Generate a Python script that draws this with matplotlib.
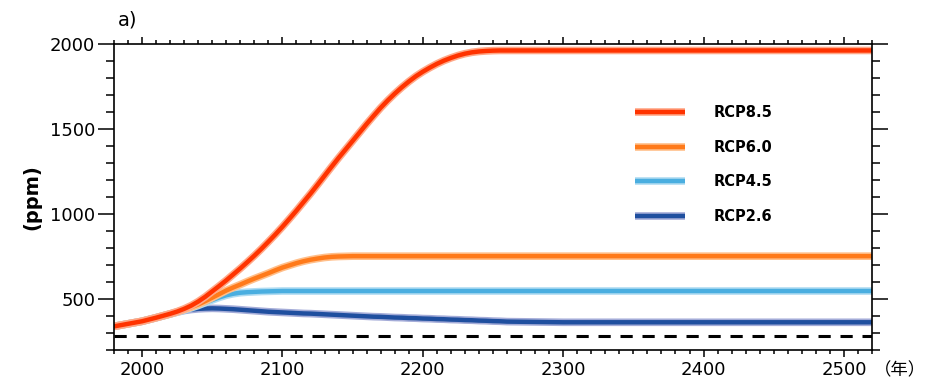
import matplotlib
matplotlib.use("Agg")
import matplotlib.pyplot as plt
from matplotlib.ticker import MultipleLocator
from matplotlib.legend_handler import HandlerTuple

years = [1980, 1990, 2000, 2010,
         2020, 2025, 2030, 2035, 2040, 2045, 2050, 2055, 2060, 2065, 2070, 2075,
         2080, 2085, 2090, 2095, 2100, 2105, 2110, 2115, 2120, 2125, 2130, 2135,
         2140, 2145, 2150, 2155, 2160, 2165, 2170, 2175, 2180, 2185, 2190, 2195,
         2200, 2205, 2210, 2215, 2220, 2225, 2230, 2235, 2240, 2245, 2250, 2255,
         2260, 2300, 2400, 2520]

rcp85 = [339, 354, 369, 390,
         413, 426, 442, 461, 485, 513, 545, 577, 610, 645, 680, 717,
         755, 795, 837, 880, 925, 972, 1020, 1070, 1120, 1172, 1225, 1278,
         1330, 1380, 1430, 1480, 1530, 1578, 1625, 1668, 1708, 1745, 1779, 1810,
         1837, 1861, 1883, 1902, 1918, 1932, 1943, 1951, 1956, 1959, 1961, 1962,
         1962, 1962, 1962, 1962]
rcp60 = [339, 354, 369, 390,
         412, 424, 438, 452, 468, 487, 508, 529, 550, 568, 585, 603,
         620, 636, 652, 669, 685, 698, 711, 722, 731, 738, 744, 748,
         750, 751, 752, 752, 752, 752, 752, 752, 752, 752, 752, 752,
         752, 752, 752, 752, 752, 752, 752, 752, 752, 752, 752, 752,
         752, 752, 752, 752]
rcp45 = [339, 354, 369, 390,
         412, 423, 435, 448, 462, 478, 494, 509, 522, 531, 537, 540,
         542, 544, 545, 546, 547, 547, 547, 547, 547, 547, 547, 547,
         547, 547, 547, 547, 547, 547, 547, 547, 547, 547, 547, 547,
         547, 547, 547, 547, 547, 547, 547, 547, 547, 547, 547, 547,
         547, 547, 547, 547]
rcp26 = [339, 354, 369, 390,
         412, 423, 432, 438, 442, 444, 445, 444, 442, 440, 437, 434,
         431, 428, 425, 423, 421, 419, 417, 415, 414, 412, 410, 408,
         406, 404, 402, 400, 398, 396, 395, 393, 391, 390, 388, 387,
         385, 384, 382, 381, 379, 378, 376, 375, 373, 372, 370, 369,
         367, 363, 363, 363]
preindustrial = 280

labels = ["RCP8.5", "RCP6.0", "RCP4.5", "RCP2.6"]
colors = ["#ff3300", "#ff7a1a", "#4aaee0", "#1f4f9f"]
halos = ["#ffa888", "#ffbf8a", "#b0dcf2", "#a4acd8"]

fig = plt.figure(figsize=(9.29, 3.84), dpi=100)
ax = fig.add_axes([114 / 929, 1 - 350 / 384, 758 / 929, 306 / 384])

ax.axhline(preindustrial, color="black", lw=2.2, dashes=(4, 3.2))

# draw low scenarios first so RCP8.5 sits on top
series_list = [rcp85, rcp60, rcp45, rcp26]
handles = []
for i in range(len(series_list) - 1, -1, -1):
    s = series_list[i]
    z = 2 + (3 - i) * 0.1
    halo, = ax.plot(years, s, color=halos[i], lw=5.5, solid_capstyle="butt", zorder=z)
    core, = ax.plot(years, s, color=colors[i], lw=3.2, solid_capstyle="butt", zorder=z + 0.05)
    handles.insert(0, (halo, core))

ax.set_xlim(1980, 2520)
ax.set_ylim(200, 2000)
ax.xaxis.set_major_locator(MultipleLocator(100))
ax.xaxis.set_minor_locator(MultipleLocator(10))
ax.yaxis.set_major_locator(MultipleLocator(500))
ax.yaxis.set_minor_locator(MultipleLocator(100))
ax.set_yticks([500, 1000, 1500, 2000])

ax.tick_params(axis="y", which="major", direction="out", length=11.5, width=1.1,
               left=True, right=True, labelsize=13, pad=2)
ax.tick_params(axis="y", which="minor", direction="out", length=6, width=1.1,
               left=True, right=True)
ax.tick_params(axis="x", which="major", direction="out", length=5, width=1.1,
               bottom=True, top=True, labelsize=13, pad=3)
ax.tick_params(axis="x", which="minor", direction="out", length=3, width=1.1,
               bottom=True, top=True)
for sp in ax.spines.values():
    sp.set_linewidth(1.2)

ax.set_ylabel("(ppm)", fontsize=14, fontweight="bold", labelpad=6)
fig.text(118 / 929, 1 - 20 / 384, "a)", fontsize=14, va="center", ha="left")
fig.text(874 / 929, 1 - 370 / 384, "（年）", fontsize=12.5, va="center", ha="left",
         family=["Noto Sans CJK JP", "DejaVu Sans"])

ax.legend(handles, labels, loc="upper left", bbox_to_anchor=(622 / 929, 1 - 92 / 384),
          bbox_transform=fig.transFigure, frameon=False, handlelength=3.4,
          handletextpad=1.95, labelspacing=1.35,
          prop={"size": 10.5, "weight": "bold"},
          handler_map={tuple: HandlerTuple(ndivide=1)})

fig.savefig("out.png", dpi=100)
